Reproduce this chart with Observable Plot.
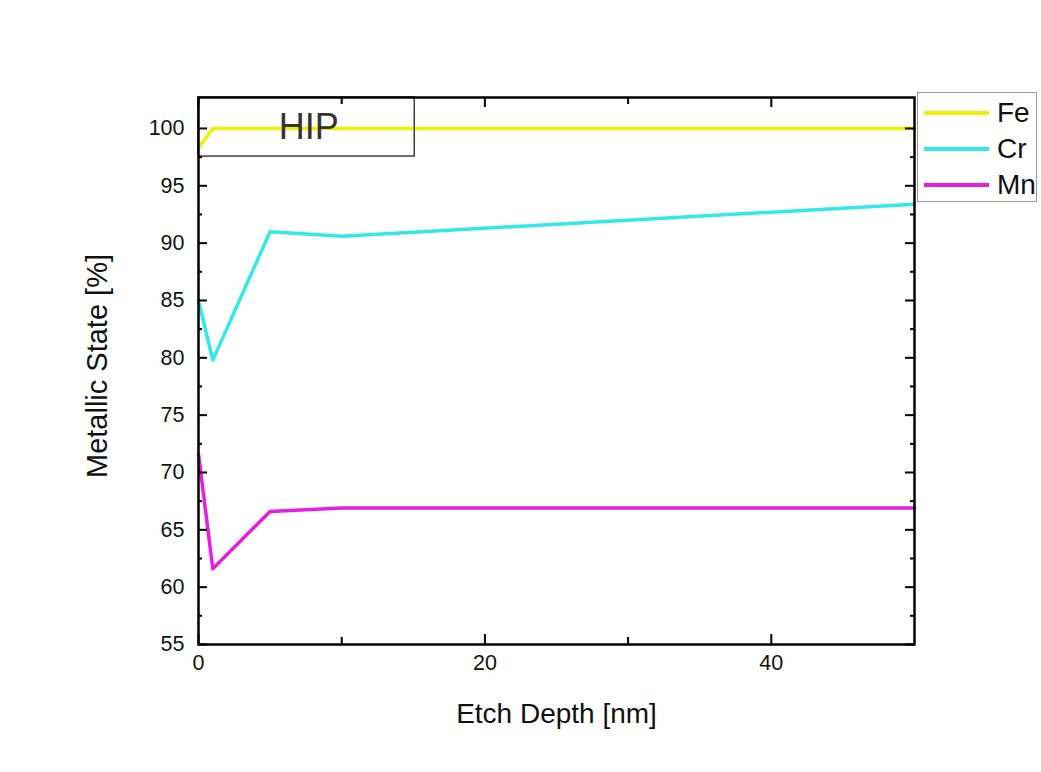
<!DOCTYPE html>
<html><head><meta charset="utf-8">
<script src="https://cdn.jsdelivr.net/npm/d3@7"></script>
<script src="https://cdn.jsdelivr.net/npm/@observablehq/plot@0.6"></script>
<style>
body{margin:0;background:#fff;font-family:"Liberation Sans",Arial,sans-serif;}
#wrap{position:relative;width:1041px;height:772px;}
#legend{position:absolute;left:917px;top:92px;width:120px;height:110px;border:1px solid #999;box-sizing:border-box;background:#fff;}
.sw{position:absolute;left:6px;width:65px;height:3.5px;}
.lab{position:absolute;left:79px;font-size:28px;line-height:30px;color:#111;}
</style></head><body><div id="wrap"></div>
<script>
const depth = [0, 1, 5, 10, 50];
const fe = [98.3, 100, 100, 100, 100];
const cr = [85.0, 79.8, 91.0, 90.6, 93.4];
const mn = [71.6, 61.6, 66.6, 66.9, 66.9];
const seriesNames = ["Fe", "Cr", "Mn"];
const seriesColors = ["#f0f000", "#33e8e8", "#e41ee4"];
const yTicks = [55, 60, 65, 70, 75, 80, 85, 90, 95, 100];
const yMinor = [57.5, 62.5, 67.5, 72.5, 77.5, 82.5, 87.5, 92.5, 97.5];
const xTicks = [0, 20, 40];
const xMinor = [10, 30];
const annotation = [{label: "HIP", x1: 0, x2: 15.1, y1: 97.55, y2: 102.7, tx: 7.7, ty: 100.1}];
const xTitle = "Etch Depth [nm]";
const yTitle = "Metallic State [%]";

const W = 1041, H = 772, mL = 198, mR = 127, mT = 97, mB = 128;
const fw = W - mL - mR, fh = H - mT - mB;
const allVals = [fe, cr, mn];
const rows = seriesNames.flatMap((name, i) => depth.map((d, j) => ({name, depth: d, value: allVals[i][j]})));

const tk = {stroke: "black", strokeWidth: 2};
const chart = Plot.plot({
  width: W, height: H,
  marginLeft: mL, marginRight: mR, marginTop: mT, marginBottom: mB,
  style: {fontFamily: '"Liberation Sans", Arial, sans-serif', fontSize: "22px", color: "#111", background: "transparent", overflow: "visible"},
  x: {domain: [0, 50], axis: null},
  y: {domain: [55, 102.7], axis: null},
  color: {domain: seriesNames, range: seriesColors},
  marks: [
    Plot.line(rows, {x: "depth", y: "value", z: "name", stroke: "name", strokeWidth: 3.5}),
    Plot.rect(annotation, {x1: "x1", x2: "x2", y1: "y1", y2: "y2", fill: "none", stroke: "#222", strokeWidth: 1.3}),
    Plot.text(annotation, {x: "tx", y: "ty", text: "label", fontSize: 36, fill: "#333"}),
    Plot.ruleY(yTicks, {y: d => d, insetRight: fw - 9, ...tk}),
    Plot.ruleY(yTicks, {y: d => d, insetLeft: fw - 9, ...tk}),
    Plot.ruleY(yMinor, {y: d => d, insetRight: fw - 4, ...tk}),
    Plot.ruleY(yMinor, {y: d => d, insetLeft: fw - 4, ...tk}),
    Plot.ruleX(xTicks, {x: d => d, insetTop: fh - 10, ...tk}),
    Plot.ruleX(xTicks, {x: d => d, insetBottom: fh - 10, ...tk}),
    Plot.ruleX(xMinor, {x: d => d, insetTop: fh - 7, ...tk}),
    Plot.ruleX(xMinor, {x: d => d, insetBottom: fh - 7, ...tk}),
    Plot.frame({stroke: "black", strokeWidth: 2.5}),
    Plot.text(xTicks, {x: d => d, text: d => String(d), frameAnchor: "bottom", lineAnchor: "top", dy: 10, fontSize: 21.5, fill: "#111"}),
    Plot.text(yTicks, {y: d => d, text: d => String(d), frameAnchor: "left", textAnchor: "end", dx: -14, fontSize: 21.5, fill: "#111"}),
    Plot.text([xTitle], {text: d => d, frameAnchor: "bottom", dy: 78, fontSize: 28, lineAnchor: "bottom"}),
    Plot.text([yTitle], {text: d => d, frameAnchor: "left", dx: -101, dy: -5, rotate: -90, textAnchor: "middle", fontSize: 29})
  ]
});
const wrap = document.getElementById("wrap");
wrap.appendChild(chart);
const lg = document.createElement("div");
lg.id = "legend";
seriesNames.forEach((n, i) => {
  const cy = 20 + i * 36;
  const sw = document.createElement("div");
  sw.className = "sw"; sw.style.top = (cy - 1.75) + "px"; sw.style.background = seriesColors[i];
  const lab = document.createElement("div");
  lab.className = "lab"; lab.style.top = (cy - 15) + "px"; lab.textContent = n;
  lg.appendChild(sw); lg.appendChild(lab);
});
wrap.appendChild(lg);
</script></body></html>
